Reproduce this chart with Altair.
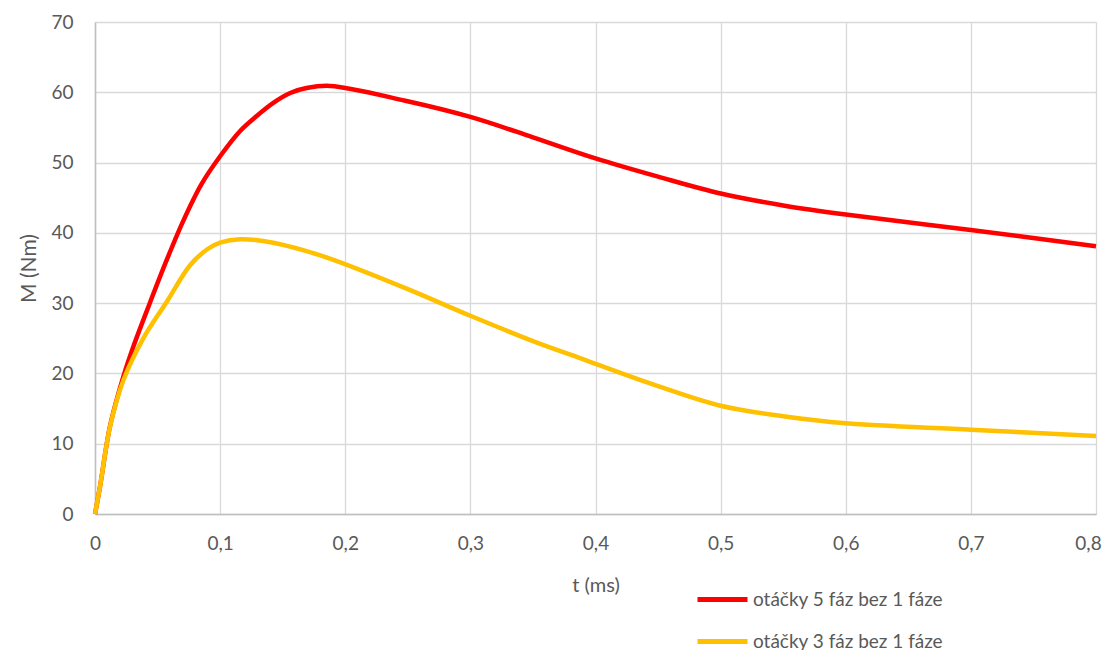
import altair as alt
import pandas as pd

t_red = [0, 0.004, 0.012, 0.0226, 0.0306, 0.044, 0.057, 0.07, 0.085, 0.1, 0.116, 0.129, 0.1425, 0.156, 0.169, 0.188, 0.248, 0.3, 0.35, 0.4, 0.45, 0.5, 0.55, 0.6, 0.7, 0.8]
m_red = [0, 3.9, 12.5, 19.5, 23.8, 30.1, 36.0, 41.5, 46.9, 50.9, 54.5, 56.6, 58.5, 59.9, 60.6, 60.9, 58.8, 56.5, 53.6, 50.6, 48.0, 45.6, 43.9, 42.6, 40.4, 38.1]

t_yel = [0, 0.004, 0.012, 0.0226, 0.0386, 0.057, 0.076, 0.09, 0.1, 0.116, 0.1425, 0.169, 0.19, 0.25, 0.3, 0.35, 0.392, 0.45, 0.5, 0.55, 0.6, 0.7, 0.8]
m_yel = [0, 3.9, 12.4, 19.0, 25.0, 30.1, 35.4, 37.7, 38.6, 39.1, 38.6, 37.4, 36.2, 32.0, 28.2, 24.6, 21.9, 18.2, 15.4, 13.9, 12.9, 12.0, 11.1]

series_names = ["otáčky 5 fáz bez 1 fáze", "otáčky 3 fáz bez 1 fáze"]
series_colors = ["#FF0000", "#FFC000"]

x_ticks = [0, 0.1, 0.2, 0.3, 0.4, 0.5, 0.6, 0.7, 0.8]
y_ticks = [0, 10, 20, 30, 40, 50, 60, 70]

df = pd.concat([
    pd.DataFrame({"t": t_red, "M": m_red, "s": series_names[0]}),
    pd.DataFrame({"t": t_yel, "M": m_yel, "s": series_names[1]}),
])

FONT = "Lato"
TXT = "#595959"

chart = alt.Chart(df).mark_line(strokeWidth=4.5, interpolate="catmull-rom").encode(
    x=alt.X("t:Q", scale=alt.Scale(domain=[0, 0.8], nice=False),
            axis=alt.Axis(values=x_ticks, title="t (ms)",
                          labelExpr="replace(format(datum.value, '.1~f'), '.', ',')",
                          grid=True, gridColor="#D9D9D9", gridWidth=1.3,
                          domainColor="#BFBFBF", domainWidth=1.5, ticks=False,
                          labelFlush=False,
                          labelOffset={"condition": {"test": "datum.value >= 0.79", "value": -8}, "value": 0},
                          labelPadding=20, labelFontSize=19, labelColor=TXT, labelFont=FONT,
                          titleFontSize=20, titleColor=TXT, titleFont=FONT, titleFontWeight="normal",
                          titlePadding=22)),
    y=alt.Y("M:Q", scale=alt.Scale(domain=[0, 70], nice=False),
            axis=alt.Axis(values=y_ticks, title="M (Nm)",
                          grid=True, gridColor="#D9D9D9", gridWidth=1.3,
                          domainColor="#BFBFBF", domainWidth=1.5, ticks=False,
                          labelFlush=False,
                          labelPadding=22, labelFontSize=19, labelColor=TXT, labelFont=FONT,
                          titleFontSize=21, titleColor=TXT, titleFont=FONT, titleFontWeight="normal",
                          titlePadding=11)),
    color=alt.Color("s:N", scale=alt.Scale(domain=series_names, range=series_colors),
                    legend=alt.Legend(title=None, orient="none", legendX=600, legendY=550,
                                      symbolType="stroke", symbolSize=2500, symbolStrokeWidth=5,
                                      labelFontSize=19, labelColor=TXT, labelFont=FONT,
                                      labelLimit=500, labelOffset=3, rowPadding=4)),
    order=alt.Order("t:Q"),
).properties(
    width=1001, height=492,
    autosize=alt.AutoSizeParams(type="none"),
    padding={"left": 87, "top": 14, "right": 9, "bottom": 136},
).configure_view(stroke=None).configure(background="white")

chart.save("out.html", embed_options={"renderer": "svg", "actions": False})
